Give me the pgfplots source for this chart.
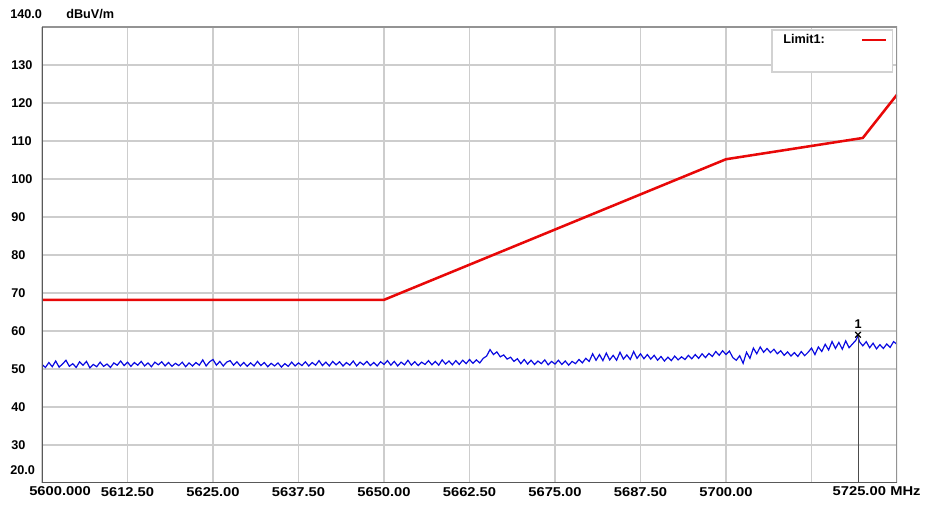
\documentclass[border=0pt]{standalone}
\usepackage{pgfplots}
\pgfplotsset{compat=1.18}
\usepackage{fontspec}
\setmainfont{Liberation Sans}
\newfontfamily\widefont[FakeStretch=1.15]{Liberation Sans}
\definecolor{limred}{RGB}{232,8,8}
\definecolor{trblue}{RGB}{10,10,225}
\definecolor{gridgray}{RGB}{205,205,205}
\begin{document}
\begin{tikzpicture}[font=\fontsize{9.5}{11}\selectfont\bfseries]
\useasboundingbox (0,0) rectangle (696pt,379.5pt);
\begin{axis}[
  at={(31.5pt,17.25pt)}, anchor=south west,
  scale only axis, width=641.25pt, height=342pt,
  xmin=5600, xmax=5725, ymin=20, ymax=140,
  axis line style={draw=none},
  xtick={5600,5612.5,5625,5637.5,5650,5662.5,5675,5687.5,5700,5712.5},
  xticklabels={,5612.50,5625.00,5637.50,5650.00,5662.50,5675.00,5687.50,5700.00,},
  ytick={30,40,50,60,70,80,90,100,110,120,130},
  yticklabels={30,40,50,60,70,80,90,100,110,120,130},
  major tick length=0pt,
  grid=major, major grid style={gridgray, line width=0.8pt},
  xticklabel style={inner sep=0pt, anchor=north, yshift=-3pt, font=\widefont\fontsize{9.6}{11}\selectfont\bfseries},
  yticklabel style={inner sep=0pt, anchor=west, xshift=-23.25pt},
  legend plot pos=right,
  legend style={draw=none, fill=none, inner sep=0pt, at={(rel axis cs:0.8667,0.9846)}, anchor=north west,
    nodes={inner sep=0pt}, column sep=27pt},
  legend image code/.code={\draw[#1] (0pt,0pt) -- (18pt,0pt);},
  clip=true,
]
\addplot[limred, line width=1.9pt] coordinates {(5600,68.2) (5650,68.2) (5700,105.2) (5720,110.8) (5725,122.2)};
\addlegendentry{Limit1:}
\addplot[trblue, line width=0.9pt, forget plot] table[row sep=\\] {
x y\\
5600.0 51.2\\ 5600.5 50.4\\ 5601.0 51.7\\ 5601.5 50.6\\ 5602.0 52.1\\ 5602.5 50.5\\ 5603.0 51.3\\ 5603.5 52.3\\ 5604.0 50.7\\ 5604.5 51.4\\
5605.0 50.4\\ 5605.5 51.9\\ 5606.0 51.0\\ 5606.5 52.0\\ 5607.0 50.3\\ 5607.5 51.2\\ 5608.0 50.6\\ 5608.5 51.8\\ 5609.0 50.7\\ 5609.5 51.3\\
5610.0 50.4\\ 5610.5 51.6\\ 5611.0 51.0\\ 5611.5 52.1\\ 5612.0 50.9\\ 5612.5 51.8\\ 5613.0 50.7\\ 5613.5 51.7\\ 5614.0 51.0\\ 5614.5 52.0\\
5615.0 50.8\\ 5615.5 51.6\\ 5616.0 50.6\\ 5616.5 51.8\\ 5617.0 51.1\\ 5617.5 51.9\\ 5618.0 50.8\\ 5618.5 51.7\\ 5619.0 50.7\\ 5619.5 51.5\\
5620.0 50.9\\ 5620.5 51.8\\ 5621.0 50.6\\ 5621.5 51.6\\ 5622.0 50.8\\ 5622.5 51.7\\ 5623.0 51.0\\ 5623.5 52.4\\ 5624.0 50.8\\ 5624.5 51.9\\
5625.0 52.5\\ 5625.5 51.0\\ 5626.0 52.0\\ 5626.5 50.8\\ 5627.0 51.8\\ 5627.5 52.2\\ 5628.0 51.0\\ 5628.5 51.9\\ 5629.0 50.8\\ 5629.5 51.7\\
5630.0 50.7\\ 5630.5 51.6\\ 5631.0 50.8\\ 5631.5 52.0\\ 5632.0 50.9\\ 5632.5 51.7\\ 5633.0 50.6\\ 5633.5 51.5\\ 5634.0 50.8\\ 5634.5 51.6\\
5635.0 50.5\\ 5635.5 51.4\\ 5636.0 50.7\\ 5636.5 51.8\\ 5637.0 50.8\\ 5637.5 51.6\\ 5638.0 50.9\\ 5638.5 51.9\\ 5639.0 50.8\\ 5639.5 51.7\\
5640.0 51.0\\ 5640.5 52.2\\ 5641.0 50.9\\ 5641.5 51.8\\ 5642.0 50.8\\ 5642.5 52.0\\ 5643.0 51.1\\ 5643.5 51.9\\ 5644.0 50.8\\ 5644.5 51.7\\
5645.0 51.0\\ 5645.5 52.1\\ 5646.0 50.8\\ 5646.5 51.8\\ 5647.0 51.1\\ 5647.5 52.0\\ 5648.0 50.9\\ 5648.5 51.7\\ 5649.0 50.8\\ 5649.5 51.9\\
5650.0 51.2\\ 5650.5 52.2\\ 5651.0 51.0\\ 5651.5 52.0\\ 5652.0 50.8\\ 5652.5 51.8\\ 5653.0 51.1\\ 5653.5 52.3\\ 5654.0 51.0\\ 5654.5 51.9\\
5655.0 50.9\\ 5655.5 51.8\\ 5656.0 51.2\\ 5656.5 52.2\\ 5657.0 51.1\\ 5657.5 52.0\\ 5658.0 51.0\\ 5658.5 52.4\\ 5659.0 51.3\\ 5659.5 52.1\\
5660.0 51.1\\ 5660.5 52.2\\ 5661.0 51.2\\ 5661.5 52.3\\ 5662.0 51.4\\ 5662.5 52.5\\ 5663.0 51.5\\ 5663.5 52.4\\ 5664.0 51.6\\ 5664.5 52.8\\
5665.0 53.4\\ 5665.5 55.1\\ 5666.0 53.8\\ 5666.5 54.5\\ 5667.0 53.2\\ 5667.5 53.7\\ 5668.0 52.6\\ 5668.5 53.1\\ 5669.0 52.0\\ 5669.5 52.7\\
5670.0 51.4\\ 5670.5 52.5\\ 5671.0 51.3\\ 5671.5 52.3\\ 5672.0 51.2\\ 5672.5 52.1\\ 5673.0 51.4\\ 5673.5 52.4\\ 5674.0 51.1\\ 5674.5 52.0\\
5675.0 51.3\\ 5675.5 52.3\\ 5676.0 51.2\\ 5676.5 52.1\\ 5677.0 51.0\\ 5677.5 52.0\\ 5678.0 51.4\\ 5678.5 52.5\\ 5679.0 51.6\\ 5679.5 52.8\\
5680.0 52.0\\ 5680.5 54.0\\ 5681.0 52.3\\ 5681.5 53.8\\ 5682.0 52.2\\ 5682.5 54.2\\ 5683.0 52.4\\ 5683.5 53.6\\ 5684.0 52.3\\ 5684.5 54.4\\
5685.0 52.6\\ 5685.5 53.7\\ 5686.0 52.5\\ 5686.5 54.6\\ 5687.0 52.8\\ 5687.5 54.0\\ 5688.0 52.7\\ 5688.5 53.8\\ 5689.0 52.6\\ 5689.5 53.6\\
5690.0 52.3\\ 5690.5 53.3\\ 5691.0 52.1\\ 5691.5 53.1\\ 5692.0 52.2\\ 5692.5 53.4\\ 5693.0 52.4\\ 5693.5 53.2\\ 5694.0 52.5\\ 5694.5 53.6\\
5695.0 52.7\\ 5695.5 53.8\\ 5696.0 52.8\\ 5696.5 54.0\\ 5697.0 53.0\\ 5697.5 54.1\\ 5698.0 53.3\\ 5698.5 54.6\\ 5699.0 53.6\\ 5699.5 54.8\\
5700.0 53.8\\ 5700.5 54.7\\ 5701.0 53.0\\ 5701.5 52.3\\ 5702.0 53.5\\ 5702.5 51.5\\ 5703.0 54.4\\ 5703.5 52.8\\ 5704.0 55.5\\ 5704.5 54.0\\
5705.0 55.8\\ 5705.5 54.4\\ 5706.0 55.4\\ 5706.5 54.3\\ 5707.0 55.2\\ 5707.5 54.0\\ 5708.0 54.8\\ 5708.5 53.6\\ 5709.0 54.5\\ 5709.5 53.4\\
5710.0 54.3\\ 5710.5 53.3\\ 5711.0 54.6\\ 5711.5 53.5\\ 5712.0 54.4\\ 5712.5 55.5\\ 5713.0 53.8\\ 5713.5 55.8\\ 5714.0 54.6\\ 5714.5 56.5\\
5715.0 55.0\\ 5715.5 57.2\\ 5716.0 55.4\\ 5716.5 57.0\\ 5717.0 55.2\\ 5717.5 57.4\\ 5718.0 55.6\\ 5718.5 56.6\\ 5719.0 57.6\\ 5719.3 58.8\\
5719.5 57.2\\ 5720.0 56.1\\ 5720.5 57.2\\ 5721.0 55.6\\ 5721.5 56.8\\ 5722.0 55.3\\ 5722.5 56.4\\ 5723.0 55.4\\ 5723.5 56.6\\ 5724.0 55.7\\
5724.5 57.2\\ 5725.0 56.5\\
};
\addplot[gray!60!black, line width=0.7pt, forget plot] coordinates {(5719.3,59) (5719.3,20)};
\addplot[black, only marks, mark=x, mark size=3pt, line width=0.9pt, forget plot] coordinates {(5719.3,59)} node[above=1pt, pos=1] {1};
% frame
\draw[gray!85, line width=1.5pt] (rel axis cs:0,1) -- (rel axis cs:1,1) -- (rel axis cs:1,0);
\draw[gray!70!black, line width=2.2pt] (rel axis cs:0,1) -- (rel axis cs:0,0) -- (rel axis cs:1,0);
% legend box
\draw[gray!35, line width=0.8pt, fill=white] (rel axis cs:0.8538,0.9934) rectangle (rel axis cs:0.9942,0.9013);
\end{axis}
\node[anchor=west, inner sep=0pt] at (7.5pt,369pt) {140.0};
\node[anchor=west, inner sep=0pt] at (49.5pt,369pt) {dBuV/m};
\node[anchor=west, inner sep=0pt] at (7.5pt,27pt) {20.0};
\begin{scope}[font=\widefont\fontsize{9.6}{11}\selectfont\bfseries]
\node[inner sep=0pt] at (45pt,11.5pt) {5600.000};
\node[inner sep=0pt] at (644.5pt,11.5pt) {5725.00};
\node[anchor=west, inner sep=0pt] at (667.5pt,11.5pt) {MHz};
\end{scope}
\end{tikzpicture}
\end{document}
